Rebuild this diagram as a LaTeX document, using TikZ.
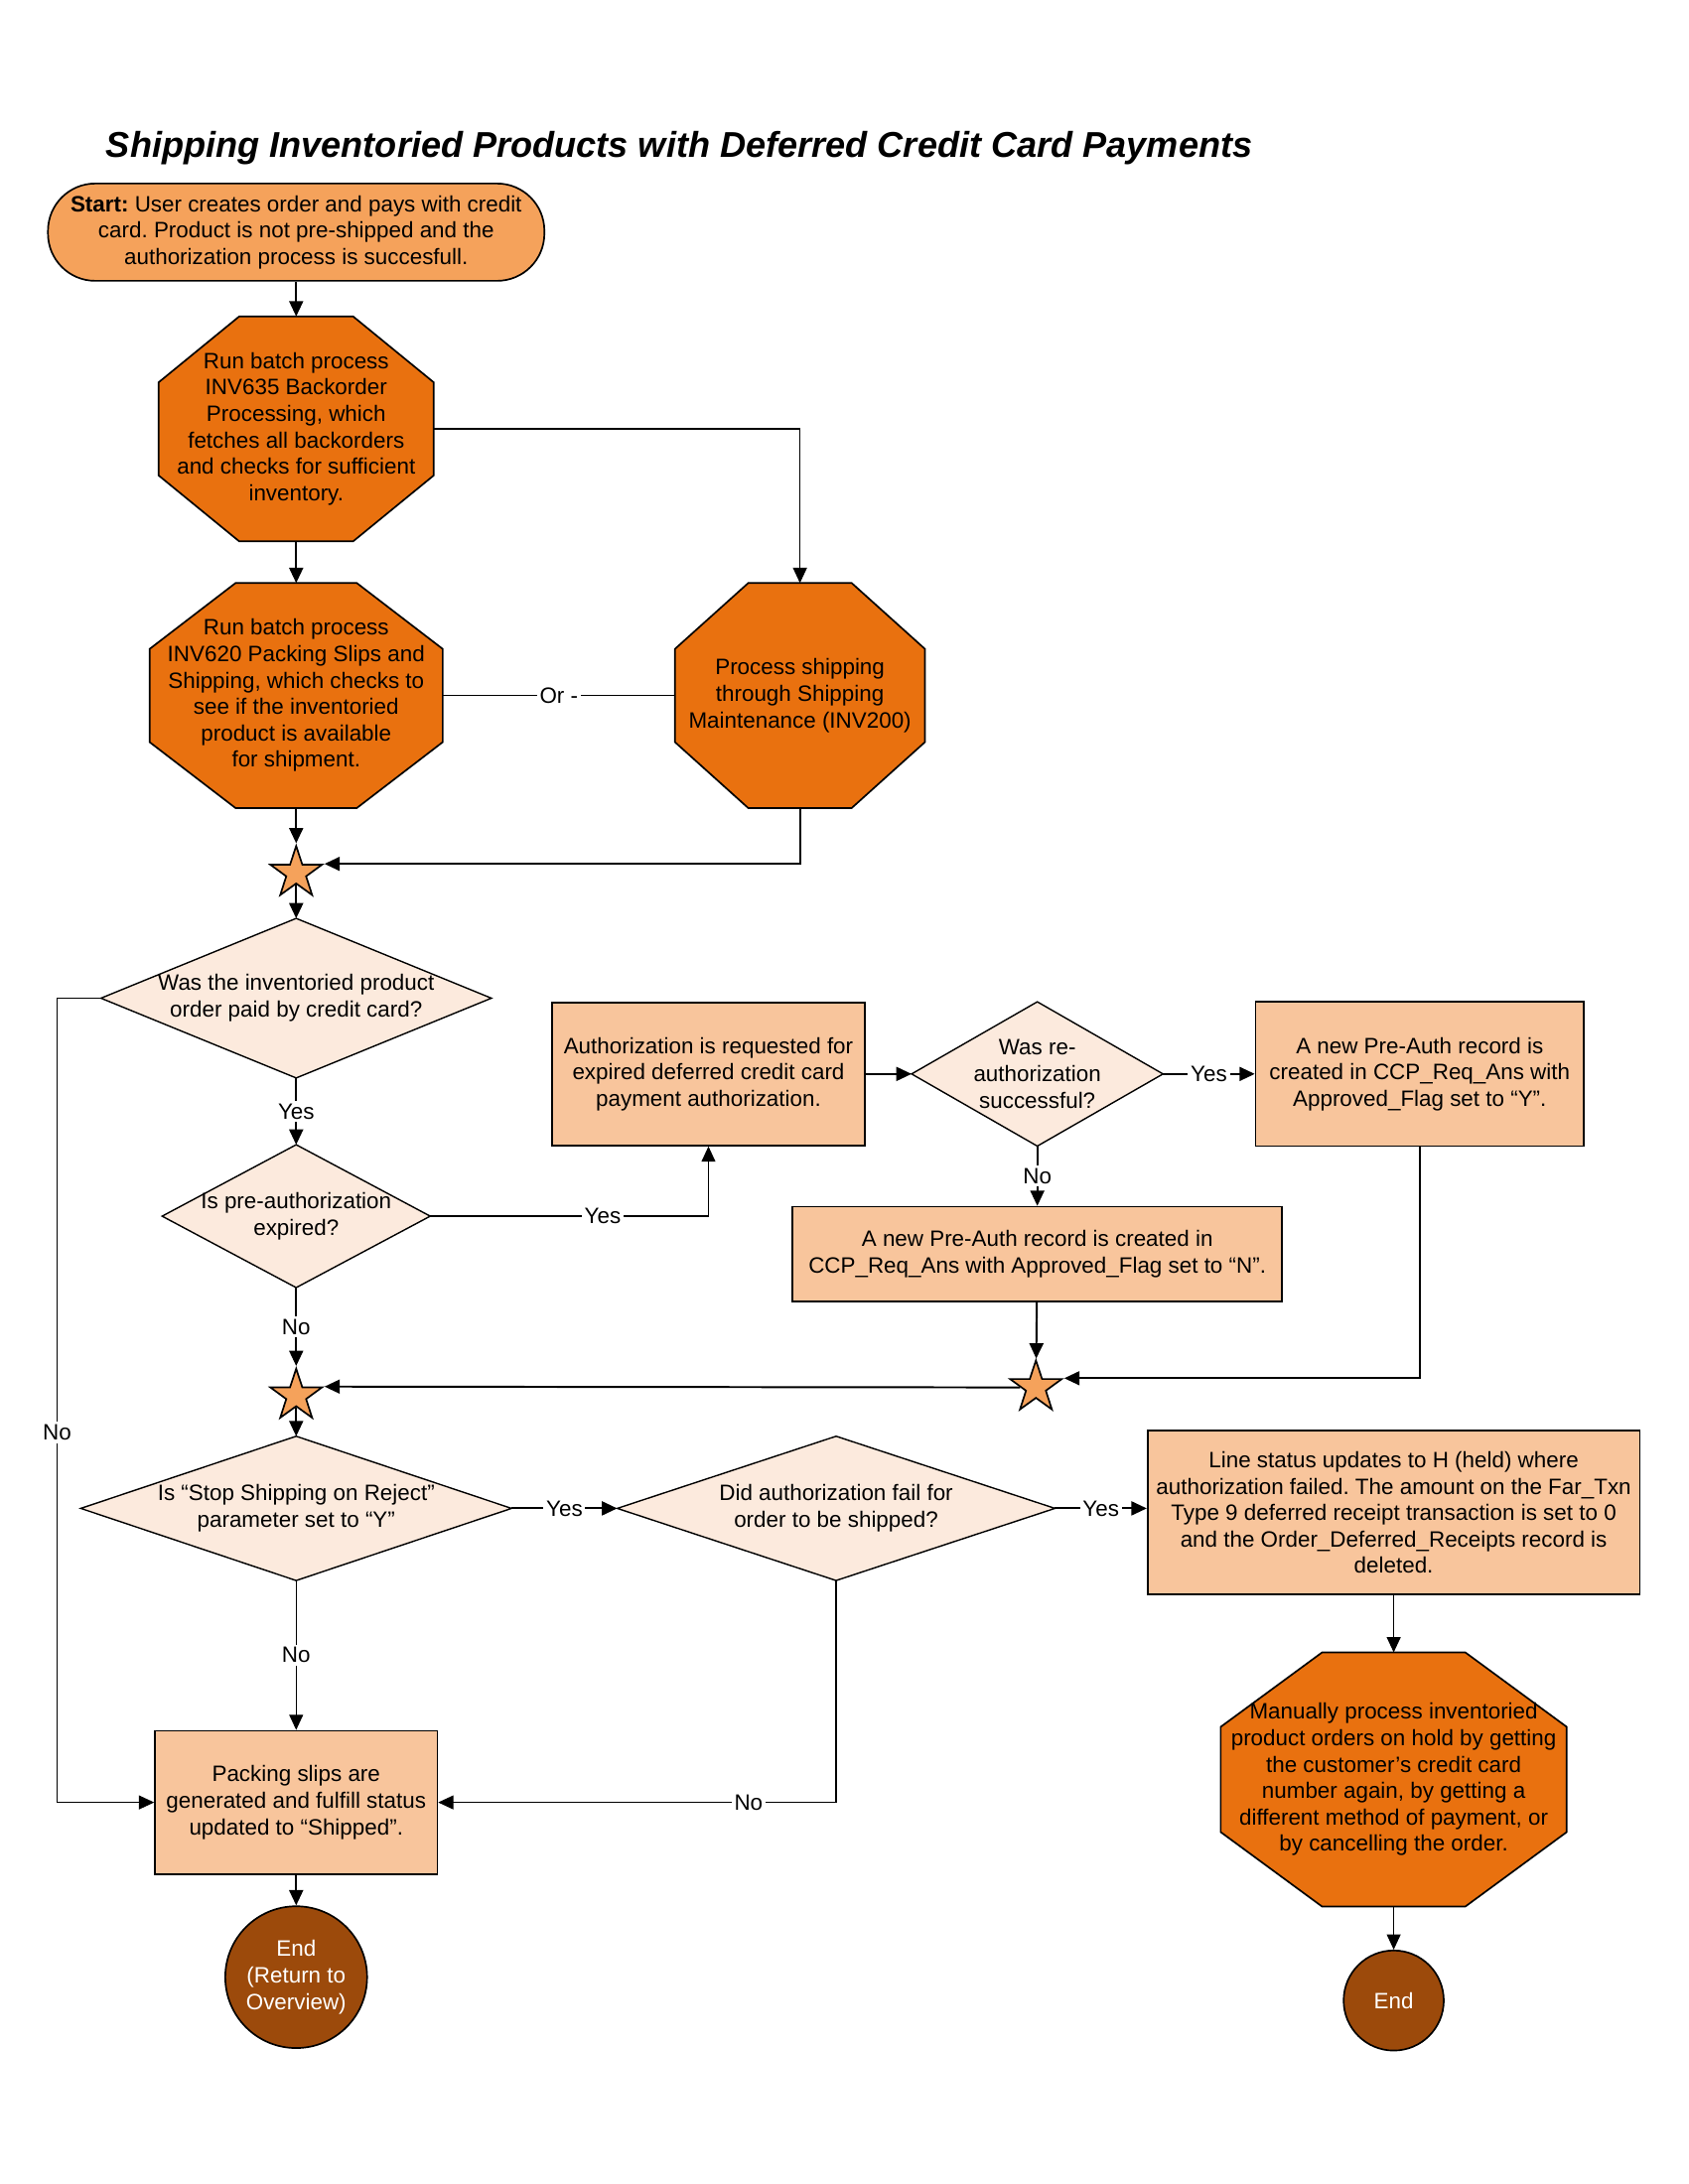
\documentclass[tikz,border=0pt]{standalone}
\usepackage{fontspec}
\setmainfont{Liberation Sans}
\usetikzlibrary{positioning}
\usetikzlibrary{shapes.geometric}
\usetikzlibrary{arrows.meta}
\usetikzlibrary{calc}
\usetikzlibrary{backgrounds}

\definecolor{startorange}{HTML}{F5A25B}
\definecolor{octorange}{HTML}{E9710F}
\definecolor{boxpeach}{HTML}{F8C59C}
\definecolor{diapeach}{HTML}{FCEADD}
\definecolor{endbrown}{HTML}{9C4A0B}

% octagon drawn in the box of a node
\newcommand\octpath[1]{($(#1.north west)!.293!(#1.north east)$) -- ($(#1.north west)!.707!(#1.north east)$)
  -- ($(#1.north east)!.293!(#1.south east)$) -- ($(#1.north east)!.707!(#1.south east)$)
  -- ($(#1.south east)!.293!(#1.south west)$) -- ($(#1.south east)!.707!(#1.south west)$)
  -- ($(#1.south west)!.293!(#1.north west)$) -- ($(#1.south west)!.707!(#1.north west)$) -- cycle}

\frenchspacing
\begin{document}
\begin{tikzpicture}[
  x=0.5pt, y=-0.5pt,
  font=\fontsize{8}{9.5}\selectfont,
  startbox/.style={draw, fill=startorange, rounded corners=17pt, align=center, minimum width=178.5pt, minimum height=35pt, line width=0.6pt},
  octnode/.style={align=center, inner sep=0pt, minimum height=80.5pt},
  procbox/.style={draw, fill=boxpeach, align=center, inner sep=2pt, line width=0.6pt},
  decision/.style={align=center, inner sep=0pt},
  junction/.style={draw, fill=startorange, star, star points=5, star point ratio=2.6, minimum size=19.5pt, inner sep=0pt, line width=0.6pt},
  endnode/.style={draw, fill=endbrown, circle, text=white, align=center, inner sep=0pt, line width=0.6pt},
  octshape/.style={draw, fill=octorange, line width=0.6pt},
  diashape/.style={draw, fill=diapeach, line width=0.5pt},
  arrow/.style={-{Triangle[length=5.5pt,width=5pt]}, line width=0.7pt},
  thinarrow/.style={-{Triangle[length=5.5pt,width=5pt]}, line width=0.45pt},
  lbl/.style={fill=white, inner sep=1pt}
]
\useasboundingbox (0,0) rectangle (1214,1571);

\node[anchor=base west, inner sep=0pt, font=\fontsize{12.9}{15}\selectfont\bfseries\itshape] (title) at (76,113)
  {Shipping Inventoried Products with Deferred Credit Card Payments};

\node[startbox] (start) at (213,167) {\textbf{Start:} User creates order and pays with credit\\card. Product is not pre-shipped and the\\authorization process is succesfull.};
\node[octnode, below=12.5pt of start, minimum width=98.5pt] (oct1) {Run batch process\\INV635 Backorder\\Processing, which\\fetches all backorders\\and checks for sufficient\\inventory.};
\node[octnode, below=15pt of oct1, minimum width=105pt] (oct2) {Run batch process\\INV620 Packing Slips and\\Shipping, which checks to\\see if the inventoried\\product is available\\for shipment.};
\node[octnode, right=83.5pt of oct2, minimum width=89.5pt] (oct3) {Process shipping\\through Shipping\\Maintenance (INV200)};

\node[junction] (star1) at (213,628) {};
\node[decision, minimum width=140pt, minimum height=57pt] (dia1) at (213,718) {Was the inventoried product\\order paid by credit card?};
\node[decision, below=24pt of dia1, minimum width=96pt, minimum height=51pt] (dia2) {Is pre-authorization\\expired?};

\node[procbox, minimum width=112.5pt, minimum height=51.5pt] (auth) at (509.5,772.5) {Authorization is requested for\\expired deferred credit card\\payment authorization.};
\node[decision, right=16.5pt of auth, minimum width=90pt, minimum height=51.5pt] (dia3) {Was re-\\authorization\\successful?};
\node[procbox, right=33pt of dia3, minimum width=118pt, minimum height=52pt] (preY) {A new Pre-Auth record is\\created in CCP\_Req\_Ans with\\Approved\_Flag set to “Y”.};
\node[procbox, below=21.5pt of dia3, minimum width=176pt, minimum height=34pt] (preN) {A new Pre-Auth record is created in\\CCP\_Req\_Ans with Approved\_Flag set to “N”.};

\node[junction] (star3) at (745,998) {};
\node[junction] (star2) at (213,1004) {};

\node[decision, minimum width=154.5pt, minimum height=51.5pt] (dia4) at (213,1085) {Is “Stop Shipping on Reject”\\parameter set to “Y”};
\node[decision, right=38pt of dia4, minimum width=157pt, minimum height=51.5pt] (dia5) {Did authorization fail for\\order to be shipped?};
\node[procbox, right=33pt of dia5, yshift=-1.5pt, minimum width=177pt, minimum height=59pt] (lstat) {Line status updates to H (held) where\\authorization failed. The amount on the Far\_Txn\\Type 9 deferred receipt transaction is set to 0\\and the Order\_Deferred\_Receipts record is\\deleted.};

\node[procbox, below=53.75pt of dia4, minimum width=101.5pt, minimum height=51.5pt] (pack) {Packing slips are\\generated and fulfill status\\updated to “Shipped”.};
\node[endnode, below=11pt of pack, minimum size=51pt] (end1) {End\\(Return to\\Overview)};
\node[octnode, below=20.5pt of lstat, minimum width=124pt, minimum height=91pt] (oct4) {Manually process inventoried\\product orders on hold by getting\\the customer’s credit card\\number again, by getting a\\different method of payment, or\\by cancelling the order.};
\node[endnode, below=15.5pt of oct4, minimum size=36pt] (end2) {End};

% connectors
\draw[arrow] (start) -- (oct1);
\draw[arrow] (oct1) -- (oct2);
\draw[thinarrow] (oct1.east) -| (oct3);
\draw[line width=0.45pt] (oct2) -- node[lbl] {Or -} (oct3);
\draw[arrow] (oct2) -- (star1);
\draw[arrow] (oct3) |- (star1.outer point 5);
\draw[arrow] (star1) -- (dia1);

\coordinate (nocorner) at (41,718);
\draw[thinarrow] (dia1.west) -- (nocorner) |- node[lbl, pos=0.27] {No} (pack.west);
\draw[arrow] (dia1) -- node[lbl] {Yes} (dia2);
\draw[thinarrow] (dia2) -| node[lbl, pos=0.31] {Yes} (auth);
\draw[arrow] (auth) -- (dia3);
\draw[arrow] (dia3) -- node[lbl] {Yes} (preY);
\draw[arrow] (dia3) -- node[lbl] {No} (preN);
\draw[arrow] (preN) -- (star3);
\draw[arrow] (preY) |- (star3.outer point 5);
\draw[arrow] (star3) -- (star2.outer point 5);
\draw[arrow] (dia2) -- node[lbl] {No} (star2);
\draw[arrow] (star2) -- (dia4);

\draw[arrow] (dia4) -- node[lbl] {Yes} (dia5);
\draw[arrow] (dia5) -- node[lbl] {Yes} (dia5 -| lstat.west);
\draw[thinarrow] (dia5) |- node[lbl, pos=0.61] {No} (pack);
\draw[thinarrow] (dia4) -- node[lbl] {No} (pack);
\draw[arrow] (pack) -- (end1);
\draw[thinarrow] (lstat) -- (oct4);
\draw[thinarrow] (oct4) -- (end2);

\begin{pgfonlayer}{background}
  \foreach \n in {oct1,oct2,oct3,oct4}
    \filldraw[octshape] \octpath{\n};
  \foreach \n in {dia1,dia2,dia3,dia4,dia5}
    \filldraw[diashape] (\n.north) -- (\n.east) -- (\n.south) -- (\n.west) -- cycle;
\end{pgfonlayer}

\end{tikzpicture}
\end{document}
